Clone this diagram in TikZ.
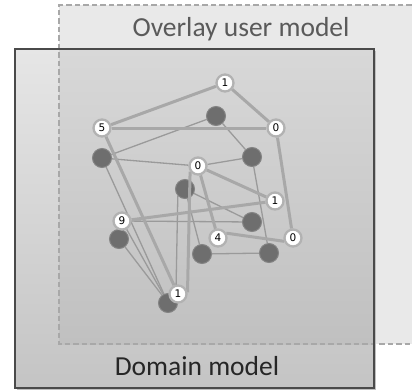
\documentclass[tikz,border=0pt]{standalone}
\usepackage{fontspec}
\setmainfont{Carlito}
\newfontfamily\numfont{DejaVu Sans}
\definecolor{overlayfill}{HTML}{E9E9E9}
\definecolor{domtop}{HTML}{E6E6E6}
\definecolor{dombot}{HTML}{C4C4C4}
\definecolor{instop}{HTML}{D8D8D8}
\definecolor{insbot}{HTML}{C0C0C0}
\definecolor{dashcol}{HTML}{A8A8A8}
\definecolor{domborder}{HTML}{4A4A4A}
\definecolor{ovtext}{HTML}{5A5A5A}
\definecolor{domtext}{HTML}{262626}
\definecolor{numring}{HTML}{B2B2B2}
\definecolor{darkfill}{HTML}{6E6E6E}
\definecolor{darkring}{HTML}{848484}
\definecolor{thickcol}{HTML}{A8A8A8}
\definecolor{thincol}{HTML}{9A9A9A}
\pgfdeclarelayer{bgl}\pgfdeclarelayer{thinl}\pgfdeclarelayer{darkl}\pgfdeclarelayer{thickl}
\pgfsetlayers{bgl,thinl,darkl,thickl,main}
\begin{document}
\begin{tikzpicture}[x=1pt,y=-1pt,
 num/.style={circle,fill=white,draw=numring,line width=2.3pt,inner sep=0pt,minimum size=17pt,font=\numfont\fontsize{10.5}{11}\selectfont},
 dk/.style={circle,fill=darkfill,draw=darkring,line width=1pt,inner sep=0pt,minimum size=19pt},
 thickedge/.style={draw=thickcol,line width=3pt},
 thinedge/.style={draw=thincol,line width=1.3pt}]
\useasboundingbox (0,0) rectangle (412,391);
\begin{pgfonlayer}{bgl}
\fill[overlayfill] (59,5) rectangle (420,344);
\shade[top color=domtop,bottom color=dombot] (15,49) rectangle (374,388);
\shade[top color=instop,bottom color=insbot] (59,49) rectangle (374,344);
\draw[dashcol,line width=1.4pt,dash pattern=on 5.5pt off 3pt] (420,5) -- (59,5) -- (59,344) -- (420,344);
\draw[black!25,line width=1.2pt] (17,389.5) -- (375.5,389.5) -- (375.5,51);
\draw[domborder,line width=1.5pt] (15,49) rectangle (374,388);
\end{pgfonlayer}
\node[font=\fontsize{27.5}{30}\selectfont,text=ovtext,anchor=base] (ovl) at (241,36.5) {Overlay user model};
\node[font=\fontsize{27.5}{30}\selectfont,text=domtext,anchor=base] (dml) at (197,375) {Domain model};
\begin{pgfonlayer}{darkl}
\node[dk] (d1) at (216,116) {};
\node[dk] (d2) at (102,158) {};
\node[dk] (d3) at (252,157) {};
\node[dk] (d4) at (185,189) {};
\node[dk] (d5) at (252,222) {};
\node[dk] (d6) at (119,239) {};
\node[dk] (d7) at (202,254) {};
\node[dk] (d8) at (269,253) {};
\node[dk] (d9) at (168,303) {};
\end{pgfonlayer}
\node[num] (t1) at (225,83) {1};
\node[num] (n5) at (102,128) {5};
\node[num] (r0) at (276,128) {0};
\node[num] (m0) at (198,166) {0};
\node[num] (r1) at (275,201) {1};
\node[num] (n9) at (122,221) {9};
\node[num] (n4) at (218,238) {4};
\node[num] (l0) at (293,238) {0};
\node[num] (b1) at (178,294) {1};
\begin{pgfonlayer}{thinl}
\draw[thinedge] (d1) -- (d2);
\draw[thinedge] (d1) -- (d3);
\draw[thinedge] (d2) -- (m0);
\draw[thinedge] (m0) -- (d3);
\draw[thinedge] (d2) -- (d9);
\draw[thinedge] (d3) -- (d8);
\draw[thinedge] (d4) -- (d5);
\draw[thinedge] (d4) -- (d7);
\draw[thinedge] (d4.224) -- (d9.38);
\draw[thinedge] (n9) -- (d5);
\draw[thinedge] (n9) -- (d9);
\draw[thinedge] (d6) -- (d9);
\draw[thinedge] (d7) -- (d8);
\end{pgfonlayer}
\begin{pgfonlayer}{thickl}
\draw[thickedge] (t1) -- (n5);
\draw[thickedge] (t1) -- (r0);
\draw[thickedge] (n5) -- (r0);
\draw[thickedge] (r0) -- (l0);
\draw[thickedge] (n5) -- (b1);
\draw[thickedge] (m0) -- (r1);
\draw[thickedge] (m0) -- (n4);
\draw[thickedge] (m0.215) -- (b1.10);
\draw[thickedge] (n9) -- (r1);
\draw[thickedge] (n4.30) -- (l0.200);
\end{pgfonlayer}
\end{tikzpicture}
\end{document}
